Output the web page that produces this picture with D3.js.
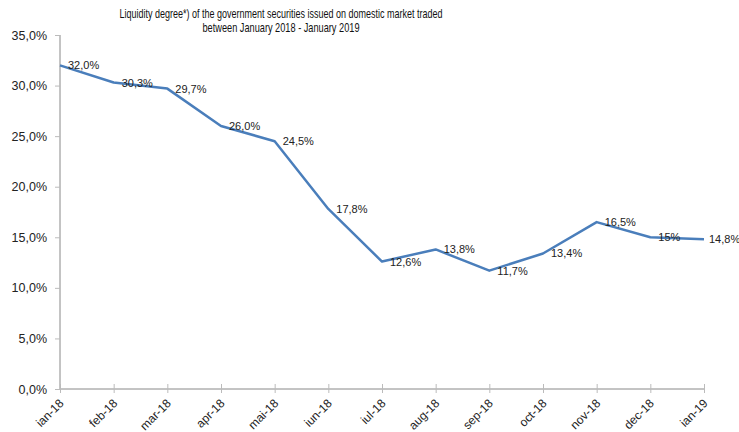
<!DOCTYPE html>
<html><head><meta charset="utf-8">
<script src="https://cdn.jsdelivr.net/npm/d3@7"></script>
<style>body{margin:0;background:#fff}svg{display:block}</style>
</head><body>
<svg id="c" width="739" height="432"></svg>
<script>
const months = ["ian-18","feb-18","mar-18","apr-18","mai-18","iun-18","iul-18","aug-18","sep-18","oct-18","nov-18","dec-18","ian-19"];
const values = [32.0,30.3,29.7,26.0,24.5,17.8,12.6,13.8,11.7,13.4,16.5,15.0,14.8];
const valueLabels = ["32,0%","30,3%","29,7%","26,0%","24,5%","17,8%","12,6%","13,8%","11,7%","13,4%","16,5%","15%","14,8%"];
const yTicks = [0,5,10,15,20,25,30,35];
const titleLines = ["Liquidity degree*) of the government securities issued on domestic market traded","between January 2018 - January 2019"];
const titleWidths = [323,157];

const svg = d3.select("#c");
const x = d3.scalePoint().domain(months).range([60,704]);
const y = d3.scaleLinear().domain([0,35]).range([389,35]);
const font = "Liberation Sans, Arial, sans-serif";

// title
svg.append("g").selectAll("text").data(titleLines).join("text")
  .attr("x",281).attr("y",(d,i)=>18+i*14).attr("text-anchor","middle")
  .attr("font-family",font).attr("font-size",13.5).attr("fill","#111")
  .attr("textLength",(d,i)=>titleWidths[i]).attr("lengthAdjust","spacingAndGlyphs")
  .text(d=>d);

// y axis
const ya = svg.append("g").attr("transform","translate(60,0)")
  .call(d3.axisLeft(y).tickValues(yTicks).tickSize(5).tickPadding(8).tickFormat(d=>d3.format(".1f")(d).replace(".",",")+"%"));
ya.select(".domain").attr("stroke","#888").attr("d","M0,35V389");
ya.selectAll(".tick line").attr("stroke","#bbb");
ya.selectAll(".tick text").attr("font-family",font).attr("font-size",12.5).attr("fill","#222");

// x axis
const xa = svg.append("g").attr("transform","translate(0,389)")
  .call(d3.axisBottom(x).tickSize(0));
xa.select(".domain").attr("stroke","#888").attr("d","M60,0H704");
xa.selectAll(".tick line").attr("y1",-5).attr("y2",4).attr("stroke","#bbb");
xa.selectAll(".tick text").attr("font-family",font).attr("font-size",12).attr("fill","#222")
  .attr("text-anchor","end").attr("y",0).attr("dy",0).attr("transform","translate(4,15) rotate(-45)");

// line
svg.append("path").datum(values)
  .attr("fill","none").attr("stroke","#4a7ebb").attr("stroke-width",2.5).attr("stroke-linejoin","round")
  .attr("d",d3.line().x((d,i)=>x(months[i])).y(d=>y(d)));

// labels
svg.append("g").selectAll("text").data(values).join("text")
  .attr("x",(d,i)=>x(months[i])+(i===values.length-1?5:8)).attr("y",d=>y(d)+4)
  .attr("font-family",font).attr("font-size",11).attr("fill","#222")
  .text((d,i)=>valueLabels[i]);
</script>
</body></html>
